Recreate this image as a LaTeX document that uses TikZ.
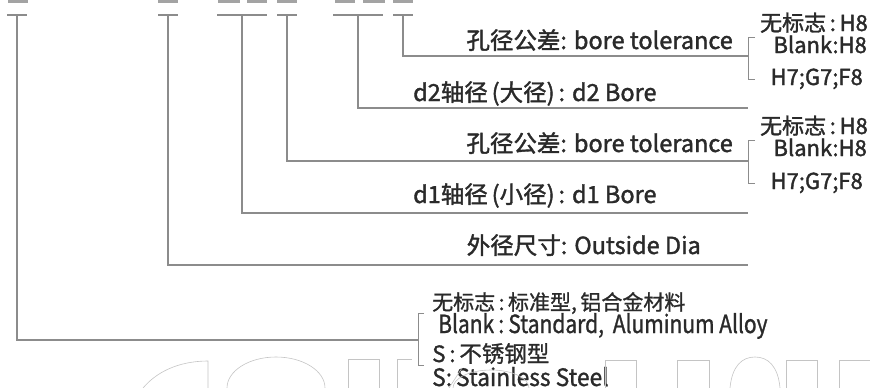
\documentclass[tikz,border=0pt]{standalone}
\usepackage{fontspec}
\setmainfont{Noto Sans CJK SC}
\newfontfamily\labfont[FakeBold=1.6]{Noto Sans CJK SC}
\newfontfamily\optfont[FakeBold=1.6]{Noto Sans CJK SC}
\newfontfamily\matfont[FakeBold=1.1]{Noto Sans CJK SC}
\newfontfamily\condfont[FakeStretch=0.84,FakeBold=1.1]{Noto Sans CJK SC}
\newfontfamily\semifont[FakeStretch=0.95,FakeBold=1.1]{Noto Sans CJK SC}
\definecolor{txt}{HTML}{2A2A2A}
\definecolor{ln}{HTML}{8C8C8C}
\definecolor{wm}{HTML}{C4C4C4}
\begin{document}
\begin{tikzpicture}[x=1pt,y=-1pt,
  conn/.style={draw=ln,line width=1.1pt},
  wmark/.style={draw=wm,line width=0.6pt},
  topbar/.style={fill=ln!80,draw=none},
  lab/.style={inner sep=0pt,text=txt,font=\labfont\fontsize{23.5}{23.5}\selectfont},
  opt/.style={inner sep=0pt,text=txt,font=\optfont\fontsize{22}{22}\selectfont},
  matc/.style={inner sep=0pt,text=txt,font=\matfont\fontsize{21}{21}\selectfont},
  mate/.style={inner sep=0pt,text=txt,font=\condfont\fontsize{25}{25}\selectfont},
  mats/.style={inner sep=0pt,text=txt,font=\semifont\fontsize{24}{24}\selectfont}]
\useasboundingbox (0,0) rectangle (870,388);
% partial top row
\foreach \a/\b in {8/28,158/178,218/240,247/267,277/297,335/355,363/385,393/413}
  \fill[topbar] (\a,0) rectangle (\b,2.5);
% T tops
\foreach \n/\a/\b/\c in {t1/7/27/17,t2/158/178/168,t3/217/267/242,t4/277/297/287,t5/333/383/358,t6/393/413/403}{
  \coordinate (\n) at (\c,15);
  \draw[conn] (\a,15) -- (\b,15);
}
% line ends
\coordinate (e6) at (748,56);
\coordinate (e5) at (748,108);
\coordinate (e4) at (748,161);
\coordinate (e3) at (748,213);
\coordinate (e2) at (748,265);
\coordinate (e1) at (418,340);
\draw[conn] (t6) |- (e6);
\draw[conn] (t5) |- (e5);
\draw[conn] (t4) |- (e4);
\draw[conn] (t3) |- (e3);
\draw[conn] (t2) |- (e2);
\draw[conn] (t1) |- (e1);
% brackets
\coordinate (b6t) at (748,37); \coordinate (b6b) at (748,79);
\coordinate (b4t) at (748,140); \coordinate (b4b) at (748,183);
\coordinate (b1t) at (418,313); \coordinate (b1b) at (418,365);
\draw[conn,line width=0.8pt] ([xshift=7pt]b6t) -- (b6t) -- (b6b) -- ([xshift=7pt]b6b);
\draw[conn,line width=0.8pt] ([xshift=7pt]b4t) -- (b4t) -- (b4b) -- ([xshift=7pt]b4b);
\draw[conn,line width=0.8pt] ([xshift=6pt]b1t) -- (b1t) -- (b1b) -- ([xshift=6pt]b1b);
% labels
\node[lab,anchor=base east] (l6) at (733,49) {孔径公差: bore tolerance};
\node[lab,anchor=base west] (l5) at (413,101) {d2轴径\,(大径)\,: d2 Bore};
\node[lab,anchor=base east] (l4) at (733,152) {孔径公差: bore tolerance};
\node[lab,anchor=base west] (l3) at (413,203) {d1轴径\,(小径)\,: d1 Bore};
\node[lab,anchor=base east] (l2) at (701,254) {外径尺寸: Outside Dia};
% options
\node[opt,anchor=base east] (o6a) at (868,31) {无标志\,:\,H8};
\node[opt,anchor=base east] (o6b) at (867,53) {Blank:H8};
\node[opt,anchor=base east] (o6c) at (863,85) {H7;G7;F8};
\node[opt,anchor=base east] (o4a) at (868,134) {无标志\,:\,H8};
\node[opt,anchor=base east] (o4b) at (867,156) {Blank:H8};
\node[opt,anchor=base east] (o4c) at (863,189) {H7;G7;F8};
% material
\node[matc,anchor=base west] (m1) at (432,310) {无标志\,:\,标准型,\,铝合金材料};
\node[mate,anchor=base west] (m2) at (438,333) {Blank\,:\,Standard,\, Aluminum Alloy};
\node[matc,anchor=base west,font=\matfont\fontsize{22.5}{22.5}\selectfont] (m3) at (432,362) {S\,:\,不锈钢型};
\node[mats,anchor=base west] (m4) at (432,386) {S:\,Stainless Steel};
% watermark outlines
\draw[wmark] (143,388) .. controls (160,368) and (185,361) .. (208,361) -- (208,388);
\draw[wmark] (227,388) arc[start angle=180,end angle=0,x radius=49,y radius=-31];
\draw[wmark] (348,388) -- (348,359) -- (379,359) -- (379,388);
\draw[wmark] (397,388) -- (397,359) -- (412,359);
\draw[wmark] (453,388) arc[start angle=180,end angle=0,x radius=38,y radius=-18];
\draw[wmark] (449,388) -- (462,368);
\draw[wmark] (605,388) -- (605,360) -- (636,360) -- (636,388);
\draw[wmark] (677,388) -- (677,360) -- (709,360) -- (709,388);
\draw[wmark] (730,388) .. controls (732,366) and (742,357) .. (755,357) .. controls (768,357) and (778,366) .. (780,388);
\draw[wmark] (786,388) -- (786,360) -- (817,360) -- (817,388);
\draw[wmark] (839,388) -- (839,360) -- (870,360);
\end{tikzpicture}
\end{document}
